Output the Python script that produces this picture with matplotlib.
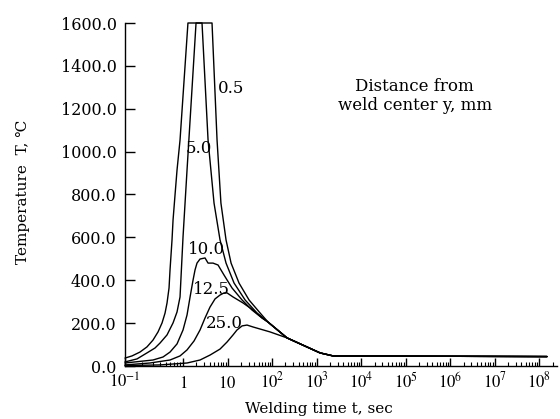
import numpy as np
import matplotlib
matplotlib.use("Agg")
import matplotlib.pyplot as plt
from matplotlib.ticker import FixedLocator, FixedFormatter, NullFormatter

# ---- data ----
t_05 = [0.1, 0.132, 0.181, 0.239, 0.304, 0.371, 0.435, 0.490, 0.530, 0.574, 0.597, 0.646,
        0.673, 0.728, 0.788, 0.888, 1.29,
        4.48, 5.81, 7.1, 9.25, 12.0, 18.1, 30.4, 54, 81, 217, 1199, 2350, 1.5e8]
T_05 = [37, 47, 65, 89, 121, 159, 201, 247, 294, 364, 448, 588,
        681, 798, 914, 1054, 1600,
        1600, 1054, 760, 588, 480, 387, 308, 247, 205, 131, 61, 47, 44]

t_50 = [0.1, 0.161, 0.239, 0.329, 0.401, 0.530, 0.673, 0.788, 0.888, 1.0, 1.23, 1.96,
        2.67, 3.65, 4.97, 6.78, 9.25, 14, 24.8, 46, 81, 217, 1199, 2350, 1.5e8]
T_50 = [19, 33, 61, 84, 107, 145, 201, 252, 322, 602, 914, 1600,
        1600, 1054, 760, 588, 480, 387, 308, 247, 205, 131, 61, 47, 44]

t_100 = [0.1, 0.304, 0.452, 0.597, 0.788, 1.0, 1.23, 1.44, 1.68, 1.86, 2.06, 2.41,
         3.12, 3.65, 4.72, 6.12, 8.35, 12.6, 21.2, 35.5, 59.6, 81, 217, 1199, 2350, 1.5e8]
T_100 = [14, 28, 42, 65, 103, 168, 238, 322, 401, 448, 480, 499,
         504, 480, 480, 471, 424, 364, 308, 261, 224, 205, 131, 61, 47, 44]

t_125 = [0.1, 0.27, 0.597, 0.888, 1.23, 1.77, 2.41, 3.12, 4.04, 5.24, 6.78, 8.35,
         9.75, 13.3, 22.3, 37.4, 59.6, 81, 217, 1199, 2350, 1.5e8]
T_125 = [5, 14, 28, 47, 75, 117, 168, 224, 275, 313, 331, 341,
         341, 322, 294, 261, 224, 205, 131, 61, 47, 44]

t_250 = [0.1, 0.401, 1.23, 2.41, 4.04, 6.78, 9.75, 13.3, 16.3, 21.2, 27.4, 37.4, 90,
         217, 1199, 2350, 1.5e8]
T_250 = [2, 5, 14, 28, 51, 79, 112, 145, 168, 187, 191, 182, 159,
         131, 61, 47, 44]

series = [(t_05, T_05), (t_50, T_50), (t_100, T_100), (t_125, T_125), (t_250, T_250)]
curve_labels = ["0.5", "5.0", "10.0", "12.5", "25.0"]

x_major = [1e-1, 1, 1e1, 1e2, 1e3, 1e4, 1e5, 1e6, 1e7, 1e8]
x_ticklabels = [r"$10^{-1}$", r"$1$", r"$10$", r"$10^{2}$", r"$10^{3}$", r"$10^{4}$",
                r"$10^{5}$", r"$10^{6}$", r"$10^{7}$", r"$10^{8}$"]
y_ticks = [0, 200, 400, 600, 800, 1000, 1200, 1400, 1600]
y_ticklabels = ["%.1f" % v for v in y_ticks]

# ---- style ----
plt.rcParams['font.family'] = ['DejaVu Serif', 'DejaVu Sans']
plt.rcParams['mathtext.fontset'] = 'stix'

# first decade of the original axis is drawn wider than the others
K = 58.0 / 44.5


def fwd(x):
    u = np.log10(np.clip(np.asarray(x, dtype=float), 1e-300, None))
    return np.where(u < 0, u * K, u)


def inv(v):
    v = np.asarray(v, dtype=float)
    return 10 ** np.where(v < 0, v / K, v)


fig = plt.figure(figsize=(5.6, 4.19), dpi=100)
ax = fig.add_axes([125 / 560, (419 - 366) / 419, 432 / 560, 343 / 419])
ax.set_xscale('function', functions=(fwd, inv))

for t, T in series:
    ax.plot(t, T, color='black', lw=1.0, clip_on=False,
            solid_joinstyle='round', solid_capstyle='round')

ax.set_xlim(0.1, 10 ** 8.4)
ax.set_ylim(0, 1600)

minor = [m * d for d in x_major for m in range(2, 10)]
minor = [v for v in minor if v < 10 ** 8.4]
ax.xaxis.set_major_locator(FixedLocator(x_major))
ax.xaxis.set_major_formatter(FixedFormatter(x_ticklabels))
ax.xaxis.set_minor_locator(FixedLocator(minor))
ax.xaxis.set_minor_formatter(NullFormatter())
ax.yaxis.set_major_locator(FixedLocator(y_ticks))
ax.yaxis.set_major_formatter(FixedFormatter(y_ticklabels))

ax.spines['top'].set_visible(False)
ax.spines['right'].set_visible(False)
for s in ('left', 'bottom'):
    ax.spines[s].set_linewidth(1.0)

ax.tick_params(axis='y', direction='in', length=7.2, width=1.0, pad=6, labelsize=11.5)
ax.tick_params(axis='x', which='major', direction='in', length=6, width=1.0, pad=15.5, labelsize=12)
ax.tick_params(axis='x', which='minor', direction='in', length=3, width=0.8)
for lbl in ax.get_xticklabels():
    lbl.set_verticalalignment('baseline')

ax.set_ylabel("Temperature  T, \u2103", fontsize=11)
ax.yaxis.set_label_coords(-0.22, 0.507)
ax.set_xlabel("Welding time t, sec", fontsize=11)
ax.xaxis.set_label_coords(0.449, -0.105)

# curve labels
label_pos = [(0.215, 0.810, 'left'), (0.171, 0.633, 'center'), (0.1875, 0.341, 'center'),
             (0.199, 0.2216, 'center'), (0.229, 0.125, 'center')]
for txt, (fx, fy, ha) in zip(curve_labels, label_pos):
    ax.text(fx, fy, txt, transform=ax.transAxes, ha=ha, va='center', fontsize=12)

ax.text(0.671, 0.787, "Distance from\nweld center y, mm", transform=ax.transAxes,
        ha='center', va='center', fontsize=12, linespacing=1.2)

fig.savefig("out.png", dpi=100)
